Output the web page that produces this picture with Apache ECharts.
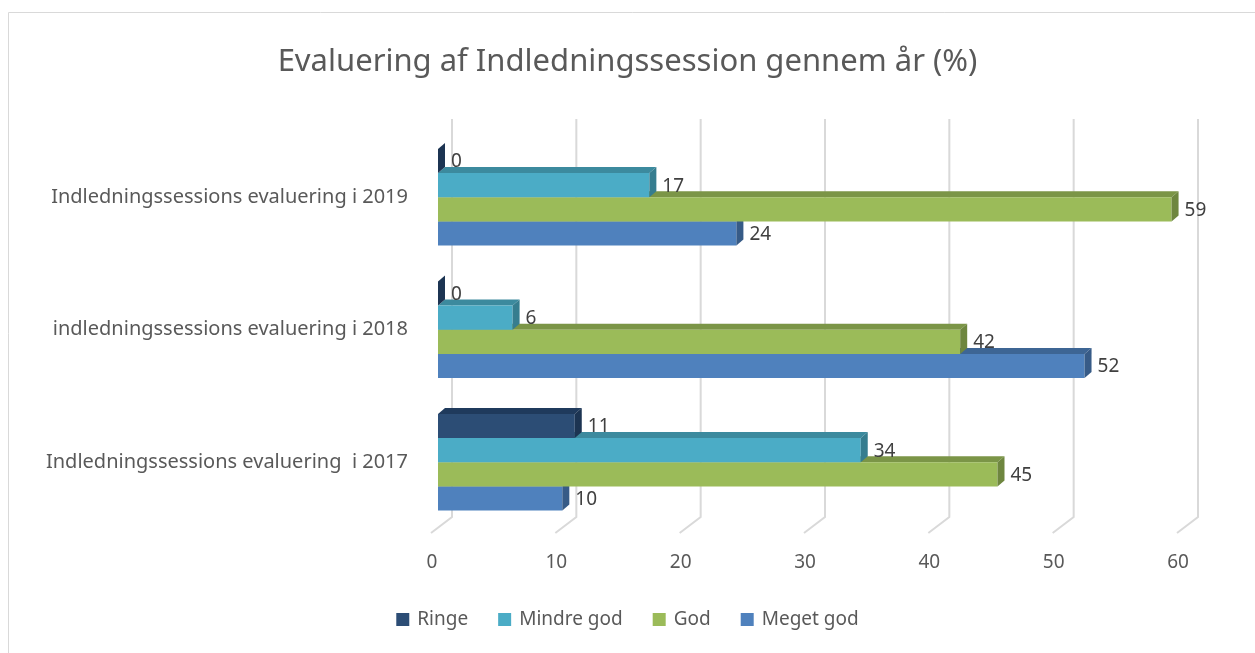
<!DOCTYPE html>
<html>
<head>
<meta charset="utf-8">
<script src="https://cdn.jsdelivr.net/npm/echarts@6/dist/echarts.min.js"></script>
<style>
html,body{margin:0;padding:0;background:#fff;}
#chart{width:1255px;height:653px;}
</style>
</head>
<body>
<div id="chart"></div>
<script>
// ---- data ----
const categories = ['Indledningssessions evaluering  i 2017', 'indledningssessions evaluering i 2018', 'Indledningssessions evaluering i 2019'];
const seriesNames = ['Ringe', 'Mindre god', 'God', 'Meget god'];
const ringe = [11, 0, 0];
const mindreGod = [34, 6, 17];
const god = [45, 42, 59];
const megetGod = [10, 52, 24];
const xTicks = [0, 10, 20, 30, 40, 50, 60];

// ---- styling ----
const FONT = '"Noto Sans", sans-serif';
const faceColors = {
  'Ringe':      { front: '#2C4D75', top: '#1F3A5C', side: '#1C3452' },
  'Mindre god': { front: '#4BACC6', top: '#3C8A9E', side: '#367D8F' },
  'God':        { front: '#9BBB59', top: '#7B9547', side: '#6E863F' },
  'Meget god':  { front: '#4F81BD', top: '#3D6594', side: '#375B87' }
};
const DX = 7, DY = 6;
const CAT_GAP = 0.27;

function barSeries(name, values, k) {
  const c = faceColors[name];
  return {
    name: name,
    type: 'custom',
    itemStyle: { color: c.front },
    encode: { x: 0, y: 1 },
    data: values.map((v, i) => [v, i]),
    renderItem: function (params, api) {
      const val = api.value(0), cat = api.value(1);
      const s = api.coord([0, cat]);
      const e = api.coord([val, cat]);
      const band = api.size([0, 1])[1];
      const groupH = band * (1 - CAT_GAP);
      const h = groupH / 4;
      const top = s[1] - groupH / 2 + k * h;
      const x0 = s[0], x1 = e[0];
      return {
        type: 'group',
        children: [
          { type: 'polygon', shape: { points: [[x0, top], [x1, top], [x1 + DX, top - DY], [x0 + DX, top - DY]] }, style: { fill: c.top } },
          { type: 'rect', shape: { x: x0, y: top, width: x1 - x0, height: h }, style: { fill: c.front } },
          { type: 'polygon', shape: { points: [[x1, top], [x1 + DX, top - DY], [x1 + DX, top + h - DY], [x1, top + h]] }, style: { fill: c.side } },
          { type: 'text', x: x1 + DX + 6, y: top + h / 2 + 1, style: { text: String(val), fill: '#404040', font: '19px ' + FONT, verticalAlign: 'middle', align: 'left' } }
        ]
      };
    }
  };
}

const chart = echarts.init(document.getElementById('chart'));
chart.setOption({
  animation: false,
  title: {
    text: 'Evaluering af Indledningssession gennem år (%)',
    left: 'center',
    top: 42,
    textStyle: { fontFamily: FONT, fontSize: 31, fontWeight: 'normal', color: '#595959' }
  },
  graphic: [
    { type: 'rect', shape: { x: 8.5, y: 12.5, width: 1400, height: 800 }, style: { fill: 'none', stroke: '#D9D9D9', lineWidth: 1 }, z: -10 }
  ],
  legend: {
    data: seriesNames,
    bottom: 19,
    left: 'center',
    icon: 'rect',
    itemWidth: 13,
    itemHeight: 13,
    itemGap: 30,
    textStyle: { fontFamily: FONT, fontSize: 19, color: '#595959', padding: [0, 0, 0, 3] }
  },
  grid: { left: 438, right: 71, top: 131, bottom: 124.5 },
  xAxis: {
    type: 'value', min: 0, max: 60, interval: 10,
    axisLine: { show: false }, axisTick: { show: false }, splitLine: { show: false },
    axisLabel: { margin: 25, fontFamily: FONT, fontSize: 19, color: '#595959', padding: [0, 12, 0, 0] }
  },
  yAxis: {
    type: 'category', data: categories,
    axisLine: { show: false }, axisTick: { show: false }, splitLine: { show: false },
    axisLabel: { margin: 30, fontFamily: FONT, fontSize: 20, color: '#595959' }
  },
  series: [
    {
      name: 'grid3d',
      type: 'custom',
      silent: true,
      encode: { x: 0, y: 1 },
      data: xTicks.map(v => [v, 0]),
      renderItem: function (params, api) {
        const p = api.coord([api.value(0), 0]);
        const cs = params.coordSys;
        const bottom = cs.y + cs.height, top = cs.y;
        return {
          type: 'polyline',
          shape: { points: [[p[0] - 7, bottom + 4.5], [p[0] + 14, bottom - 11.5], [p[0] + 14, top - 12]] },
          style: { stroke: '#D9D9D9', lineWidth: 2, fill: null }
        };
      }
    },
    barSeries('Meget god', megetGod, 3),
    barSeries('God', god, 2),
    barSeries('Mindre god', mindreGod, 1),
    barSeries('Ringe', ringe, 0)
  ]
});
</script>
</body>
</html>
